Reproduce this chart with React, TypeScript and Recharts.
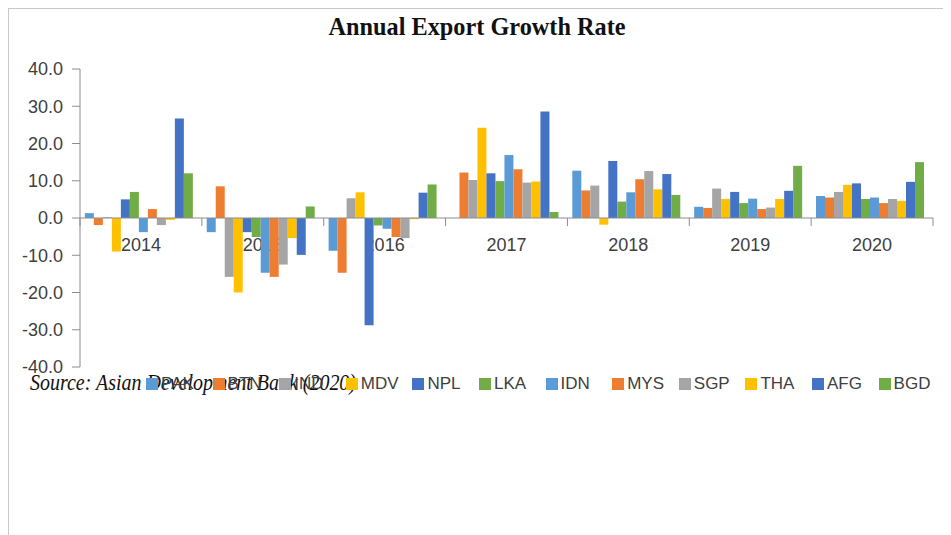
import React from 'react';
import { BarChart, Bar, XAxis, YAxis, ReferenceLine, ReferenceArea, Legend } from 'recharts';

// Categories and series values (annual export growth, %)
const YEARS = ['2014', '2015', '2016', '2017', '2018', '2019', '2020'];

const PAK = [1.3, -3.8, -8.8, 0, 12.7, 3.0, 5.9];
const BTN = [-1.9, 8.5, -14.7, 12.2, 7.4, 2.7, 5.5];
const IND = [0.2, -15.8, 5.3, 10.2, 8.7, 7.9, 7.0];
const MDV = [-9.0, -20.0, 6.9, 24.2, -1.8, 5.1, 8.9];
const NPL = [5.0, -3.8, -28.8, 12.0, 15.3, 7.0, 9.3];
const LKA = [7.0, -5.1, -2.0, 9.9, 4.4, 4.0, 5.1];
const IDN = [-3.8, -14.7, -2.9, 16.9, 6.9, 5.2, 5.5];
const MYS = [2.4, -15.8, -5.1, 13.1, 10.4, 2.4, 4.0];
const SGP = [-1.9, -12.5, -5.4, 9.5, 12.6, 2.8, 5.1];
const THA = [-0.5, -5.4, -0.3, 9.8, 7.7, 5.1, 4.6];
const AFG = [26.7, -9.9, 6.8, 28.6, 11.8, 7.3, 9.7];
const BGD = [12.0, 3.1, 9.0, 1.6, 6.2, 14.0, 15.0];

const Y_TICKS = [40, 30, 20, 10, 0, -10, -20, -30, -40];

const SERIES = [
  { name: 'PAK', values: PAK, color: '#5B9BD5' },
  { name: 'BTN', values: BTN, color: '#ED7D31' },
  { name: 'IND', values: IND, color: '#A5A5A5' },
  { name: 'MDV', values: MDV, color: '#FFC000' },
  { name: 'NPL', values: NPL, color: '#4472C4' },
  { name: 'LKA', values: LKA, color: '#70AD47' },
  { name: 'IDN', values: IDN, color: '#5B9BD5' },
  { name: 'MYS', values: MYS, color: '#ED7D31' },
  { name: 'SGP', values: SGP, color: '#A5A5A5' },
  { name: 'THA', values: THA, color: '#FFC000' },
  { name: 'AFG', values: AFG, color: '#4472C4' },
  { name: 'BGD', values: BGD, color: '#70AD47' },
];

const data = YEARS.map((year, i) => {
  const row: any = { year };
  SERIES.forEach(s => {
    row[s.name] = s.values[i];
  });
  return row;
});

const CHART_W = 942;
const CHART_H = 526;
const MARGIN = { top: 60, right: 18, left: 0, bottom: 138 };
const Y_AXIS_W = 71;
const X_AXIS_H = 30;
const PLOT_W = CHART_W - MARGIN.left - MARGIN.right - Y_AXIS_W;
const PLOT_H = CHART_H - MARGIN.top - MARGIN.bottom - X_AXIS_H;
const Y_MIN = -40;
const Y_MAX = 40;
// category labels sit under the zero line, not at the bottom of the plot
const ZERO_Y = MARGIN.top + (PLOT_H * Y_MAX) / (Y_MAX - Y_MIN);
const BAND = PLOT_W / YEARS.length;

const SANS = "'Liberation Sans', Arial, sans-serif";
const SERIF = "'Liberation Serif', 'Times New Roman', serif";
const AXIS_GREY = '#8c8c8c';
const TEXT_GREY = '#404040';

const YearTick = (props: any) => {
  const { x, payload, index } = props;
  const left = x - BAND / 2;
  return (
    <g>
      <line x1={left} x2={left} y1={ZERO_Y} y2={ZERO_Y + 8} stroke={AXIS_GREY} />
      {index === YEARS.length - 1 && (
        <line x1={x + BAND / 2} x2={x + BAND / 2} y1={ZERO_Y} y2={ZERO_Y + 8} stroke={AXIS_GREY} />
      )}
      <text x={x} y={ZERO_Y + 33} textAnchor="middle" fontSize={18} fontFamily={SANS} fill={TEXT_GREY}>
        {payload.value}
      </text>
    </g>
  );
};

const LegendContent = () => (
  <div style={{ position: 'relative', height: 20 }}>
    {SERIES.map((s, i) => (
      <div
        key={s.name}
        style={{ position: 'absolute', left: i * 66.6, top: 0, display: 'flex', alignItems: 'center', height: 20 }}
      >
        <span style={{ display: 'inline-block', width: 12, height: 12, background: s.color, marginRight: 3 }} />
        <span style={{ fontSize: 17, fontFamily: SANS, color: TEXT_GREY, lineHeight: '20px' }}>{s.name}</span>
      </div>
    ))}
  </div>
);

const layer: React.CSSProperties = { position: 'absolute', left: 0, top: 0 };

const App = () => {
  return (
    <div
      style={{
        position: 'relative',
        width: CHART_W,
        height: CHART_H,
        borderLeft: '1px solid #c8c8c8',
        borderTop: '1px solid #c8c8c8',
        background: '#fff',
      }}
    >
      <style>{'body { overflow: hidden; }'}</style>
      <svg width={CHART_W} height={CHART_H} style={layer}>
        <text
          x={468}
          y={26}
          textAnchor="middle"
          fontFamily={SERIF}
          fontWeight="bold"
          fontSize={25}
          textLength={297}
          lengthAdjust="spacingAndGlyphs"
          fill="#111"
        >
          Annual Export Growth Rate
        </text>
        <text
          x={21}
          y={381}
          fontFamily={SERIF}
          fontStyle="italic"
          fontSize={23}
          textLength={326}
          lengthAdjust="spacingAndGlyphs"
          fill="#111"
        >
          Source: Asian Development Bank (2020)
        </text>
      </svg>

      {/* back layer: year axis, so the bars are painted over its labels */}
      <div style={layer}>
        <BarChart width={CHART_W} height={CHART_H} data={data} margin={MARGIN}>
          <ReferenceArea y1={Y_MIN} y2={Y_MAX} fill="none" stroke="#d9d9d9" />
          <XAxis
            dataKey="year"
            height={X_AXIS_H}
            axisLine={false}
            tickLine={false}
            interval={0}
            tick={<YearTick />}
          />
          <YAxis width={Y_AXIS_W} domain={[Y_MIN, Y_MAX]} ticks={Y_TICKS} axisLine={false} tickLine={false} tick={false} />
        </BarChart>
      </div>

      <div style={layer}>
        <BarChart
          width={CHART_W}
          height={CHART_H}
          data={data}
          margin={MARGIN}
          barCategoryGap="4%"
          barGap={0}
          style={{ fontFamily: SANS }}
        >
          <XAxis dataKey="year" height={X_AXIS_H} axisLine={false} tickLine={false} tick={false} />
          <YAxis
            width={Y_AXIS_W}
            domain={[Y_MIN, Y_MAX]}
            ticks={Y_TICKS}
            interval={0}
            tickFormatter={(v: number) => v.toFixed(1)}
            axisLine={{ stroke: AXIS_GREY }}
            tickLine={{ stroke: AXIS_GREY }}
            tickSize={8}
            tickMargin={9}
            tick={{ fontSize: 18, fill: TEXT_GREY, fontFamily: SANS }}
          />
          <ReferenceLine y={0} stroke={AXIS_GREY} />
          {SERIES.map(s => (
            <Bar key={s.name} dataKey={s.name} fill={s.color} isAnimationActive={false} />
          ))}
          <Legend
            layout="horizontal"
            verticalAlign="middle"
            align="center"
            content={<LegendContent />}
            wrapperStyle={{ top: 365, left: 137, width: 800, height: 20 }}
          />
        </BarChart>
      </div>
    </div>
  );
};

export default App;
